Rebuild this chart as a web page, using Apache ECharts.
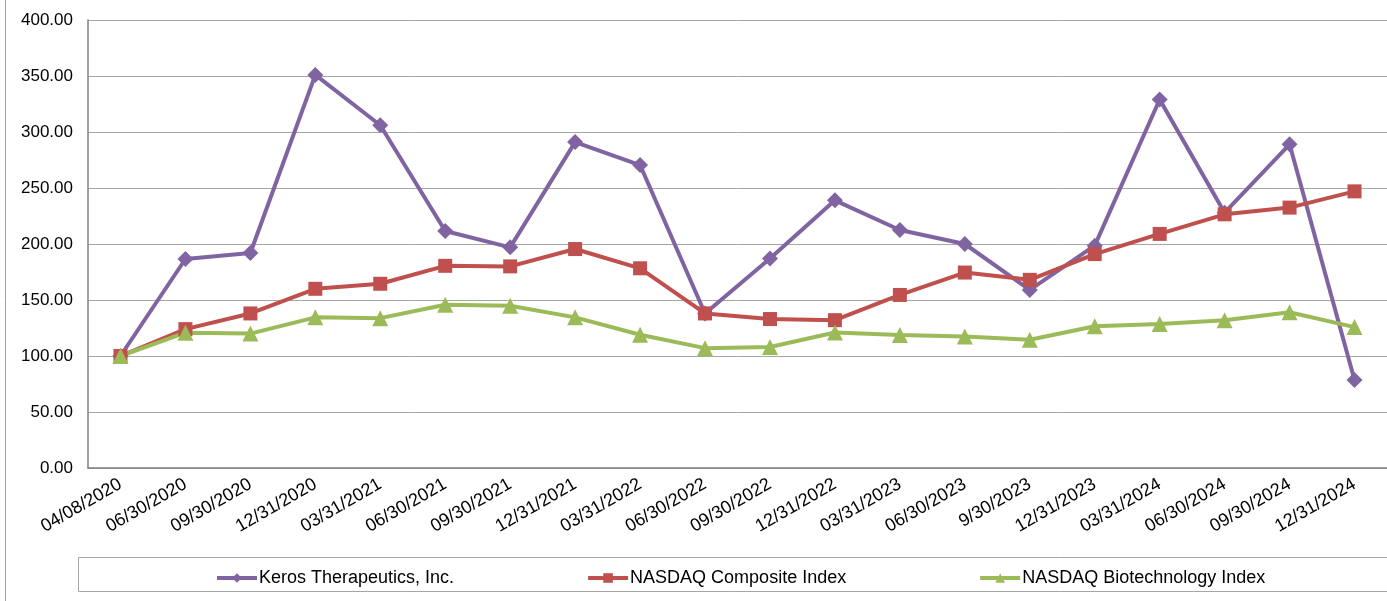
<!DOCTYPE html>
<html>
<head>
<meta charset="utf-8">
<script src="https://cdn.jsdelivr.net/npm/echarts@6/dist/echarts.min.js"></script>
<style>html,body{margin:0;padding:0;background:#fff;}#c{width:1387px;height:601px;}</style>
</head>
<body>
<div id="c"></div>
<script>
const categories = ['04/08/2020','06/30/2020','09/30/2020','12/31/2020','03/31/2021','06/30/2021','09/30/2021','12/31/2021','03/31/2022','06/30/2022','09/30/2022','12/31/2022','03/31/2023','06/30/2023','9/30/2023','12/31/2023','03/31/2024','06/30/2024','09/30/2024','12/31/2024'];
const keros = [100, 186.6, 192, 351, 306, 211.6, 197, 291, 270.5, 138, 187, 239, 212.5, 200, 159, 198.5, 329, 228, 289, 78.6];
const nasdaqComp = [100, 124, 138, 160, 164.5, 180.5, 180, 195.5, 178.3, 138, 133, 132, 154.5, 174.5, 168, 191, 209, 226.5, 232.5, 247];
const nasdaqBio = [100, 120.8, 120, 134.5, 133.8, 145.8, 144.8, 134.5, 119, 107, 108, 121, 118.8, 117.5, 114.5, 126.5, 128.5, 132, 139, 125.8];
const yTicks = {min: 0, max: 400, interval: 50};

const chart = echarts.init(document.getElementById('c'));
const font = 'Liberation Sans, Arial, sans-serif';
function mk(name, data, color, symbol, size) {
  return {
    name, type: 'line', data, symbol, symbolSize: size,
    itemStyle: {color}, lineStyle: {color, width: 4},
    emphasis: {disabled: true}, animation: false
  };
}
chart.setOption({
  animation: false,
  textStyle: {fontFamily: font},
  grid: {left: 88, right: -4, top: 20, bottom: 133, containLabel: false},
  graphic: [
    {type: 'line', shape: {x1: 5.5, y1: 0, x2: 5.5, y2: 601}, style: {stroke: '#a0a0a0', lineWidth: 1}},
    {type: 'rect', shape: {x: 78.5, y: 557.5, width: 1320, height: 34}, style: {fill: '#fff', stroke: '#a6a6a6', lineWidth: 1}, z: 0}
  ],
  legend: {
    top: 564, left: 210,
    itemGap: 132, itemWidth: 40, itemHeight: 12,
    lineStyle: {width: 4},
    textStyle: {fontFamily: font, fontSize: 18, color: '#000', padding: [0, 0, 0, -3]},
    data: ['Keros Therapeutics, Inc.', 'NASDAQ Composite Index', 'NASDAQ Biotechnology Index']
  },
  xAxis: {
    type: 'category', data: categories, boundaryGap: true,
    axisLine: {lineStyle: {color: '#808080', width: 1.5}},
    axisTick: {alignWithLabel: true, length: 5, lineStyle: {color: '#808080'}},
    axisLabel: {rotate: 30, fontSize: 18, color: '#000', margin: 15, interval: 0, fontFamily: font}
  },
  yAxis: {
    type: 'value', min: yTicks.min, max: yTicks.max, interval: yTicks.interval,
    axisLine: {show: true, lineStyle: {color: '#808080', width: 1.5}},
    axisTick: {show: false},
    splitLine: {lineStyle: {color: '#a6a6a6', width: 1}},
    axisLabel: {formatter: v => v.toFixed(2), fontSize: 17, color: '#000', margin: 15, fontFamily: font}
  },
  series: [
    mk('Keros Therapeutics, Inc.', keros, '#8064A2', 'diamond', 16),
    mk('NASDAQ Composite Index', nasdaqComp, '#C0504D', 'rect', 14),
    mk('NASDAQ Biotechnology Index', nasdaqBio, '#9BBB59', 'triangle', 16)
  ]
});
</script>
</body>
</html>
